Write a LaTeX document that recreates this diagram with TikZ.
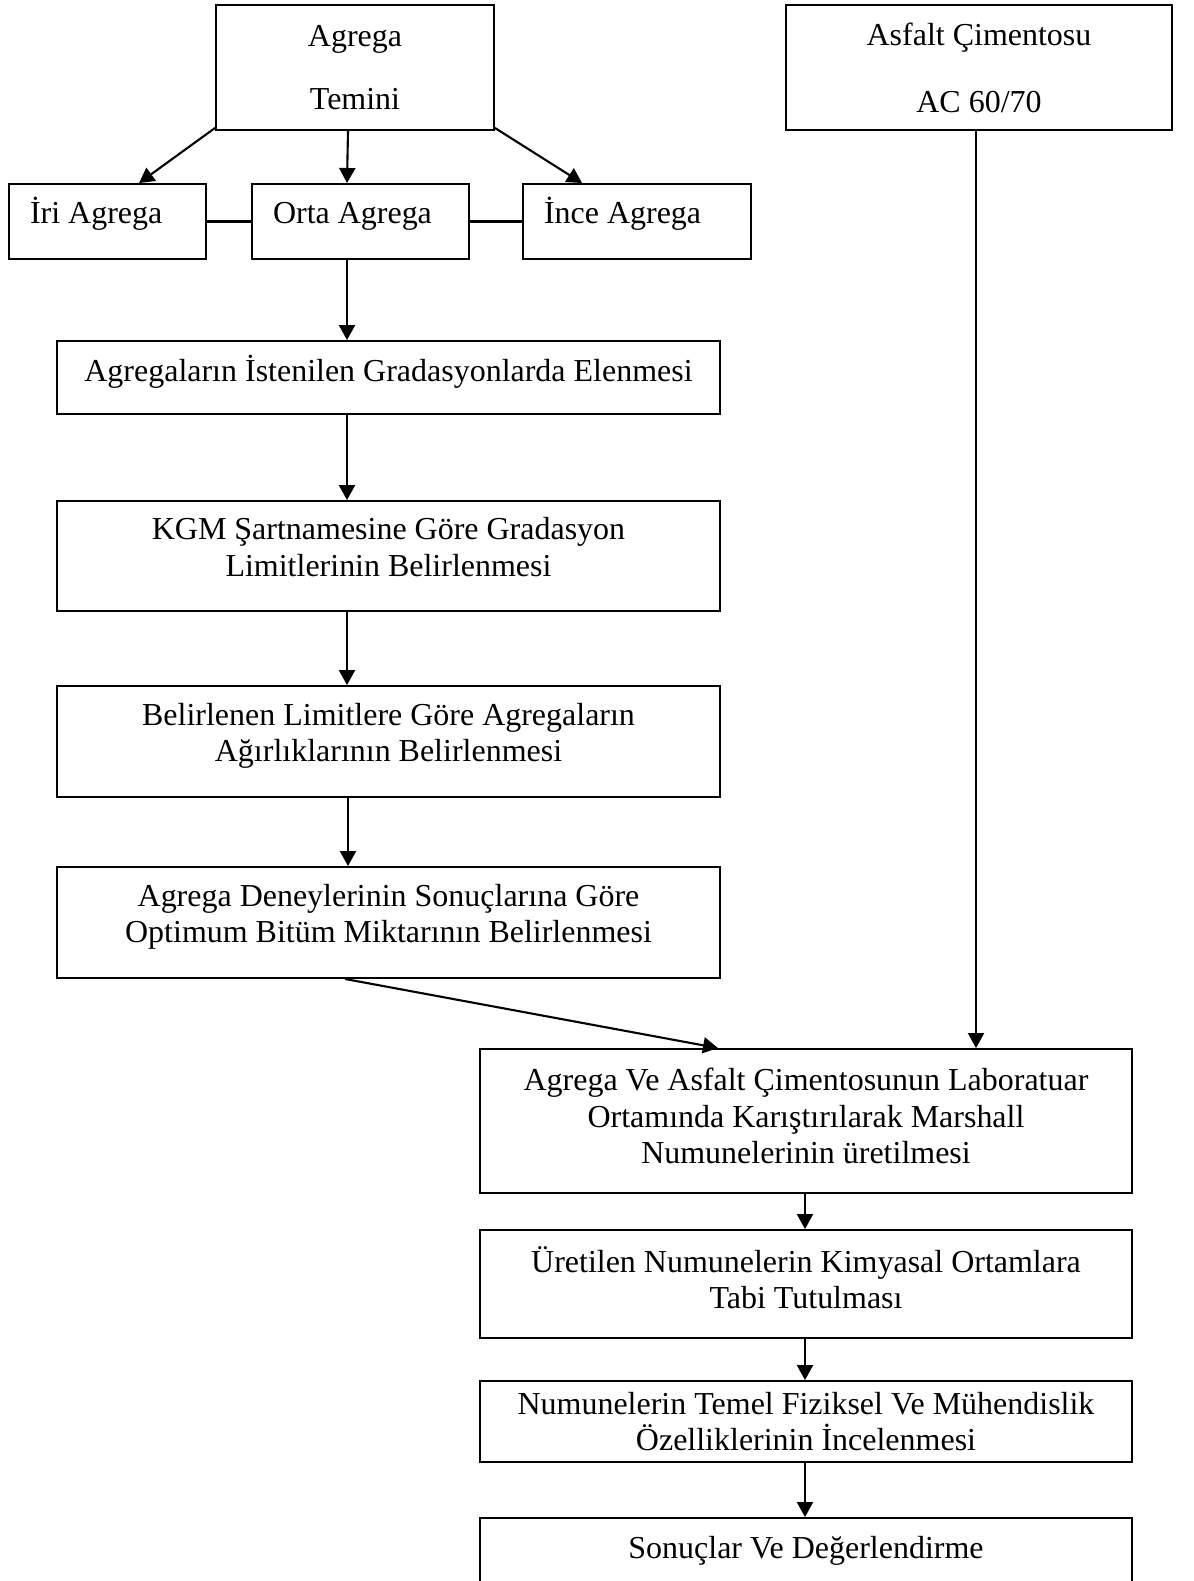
\documentclass[tikz,border=0pt]{standalone}
\usepackage{fontspec}
\setmainfont{Liberation Serif}
\usetikzlibrary{arrows.meta,calc}

\begin{document}
\begin{tikzpicture}[
  x=0.02cm, y=-0.02cm,
  box/.style={draw, line width=1.1pt, rectangle, align=center, inner sep=0pt,
    font=\fontsize{18.2}{20.7}\selectfont},
  sbox/.style={box, align=flush left, inner xsep=0.42cm, minimum height=1.5cm,
    text height=0.3cm, text depth=0.2cm},
  lift/.style={text depth=0.36cm},
  arr/.style={-{Triangle[length=0.3cm,width=0.32cm]}, line width=1.2pt},
  lnk/.style={line width=1.2pt}
]
  \useasboundingbox (0,0) rectangle (1193,1581);
  % ust sira
  \node[box, minimum width=5.56cm, minimum height=2.5cm] (temini) at (355,67.5) {Agrega\\[0.52cm]Temini};
  \node[box, text depth=0cm, minimum width=7.72cm, minimum height=2.5cm] (asfalt) at (979,67.5) {Asfalt Çimentosu\\[0.62cm]AC 60/70};
  \node[sbox, minimum width=3.94cm, text width=3.1cm] (iri)  at (107.5,221.5) {İri Agrega};
  \node[sbox, minimum width=4.34cm, text width=3.5cm] (orta) at (360.5,221.5) {Orta Agrega};
  \node[sbox, minimum width=4.56cm, text width=3.72cm] (ince) at (637,221.5) {İnce Agrega};
  % sol kolon
  \node[box, lift, minimum width=13.26cm, minimum height=1.46cm] (eleme) at (388.5,377.5) {Agregaların İstenilen Gradasyonlarda Elenmesi};
  \node[box, lift, minimum width=13.26cm, minimum height=2.2cm] (kgm) at (388.5,556) {KGM Şartnamesine Göre Gradasyon\\Limitlerinin Belirlenmesi};
  \node[box, lift, minimum width=13.26cm, minimum height=2.22cm] (agirlik) at (388.5,741.5) {Belirlenen Limitlere Göre Agregaların\\Ağırlıklarının Belirlenmesi};
  \node[box, lift, minimum width=13.26cm, minimum height=2.22cm] (bitum) at (388.5,922.5) {Agrega Deneylerinin Sonuçlarına Göre\\Optimum Bitüm Miktarının Belirlenmesi};
  % sag kolon
  \node[box, text depth=0.2cm, minimum width=13.04cm, minimum height=2.88cm] (marshall) at (806,1121) {Agrega Ve Asfalt Çimentosunun Laboratuar\\Ortamında Karıştırılarak Marshall\\Numunelerinin üretilmesi};
  \node[box, text depth=0.26cm, minimum width=13.04cm, minimum height=2.16cm] (kimya) at (806,1284) {Üretilen Numunelerin Kimyasal Ortamlara\\Tabi Tutulması};
  \node[box, minimum width=13.04cm, minimum height=1.62cm] (ozellik) at (806,1421.5) {Numunelerin Temel Fiziksel Ve Mühendislik\\Özelliklerinin İncelenmesi};
  \node[box, minimum width=13.04cm, minimum height=1.32cm] (sonuc) at (806,1551) {Sonuçlar Ve Değerlendirme};
  % ok hizalari
  \coordinate (ax) at (347,0);
  \coordinate (bx) at (976,0);
  \coordinate (cx) at (805,0);
  \coordinate (mt) at (718,0);
  % baglantilar
  \draw[arr] (temini.south west) ++(0,-3) -- ($(iri.north west)+(131,0)$);
  \draw[arr] (temini.south -| 348,0) -- (orta.north -| ax);
  \draw[arr] (temini.south east) ++(0,-3) -- ($(ince.north west)+(60,0)$);
  \draw[lnk] (iri) -- (orta);
  \draw[lnk] (orta) -- (ince);
  \draw[arr] (orta.south -| ax) -- (eleme.north -| ax);
  \draw[arr] (eleme.south -| ax) -- (kgm.north -| ax);
  \draw[arr] (kgm.south -| ax) -- (agirlik.north -| ax);
  \draw[arr] (agirlik.south -| 348,0) -- (bitum.north -| 348,0);
  \draw[arr] (bitum.south -| 345,0) -- (marshall.north -| mt);
  \draw[arr] (asfalt.south -| bx) -- (marshall.north -| bx);
  \draw[arr] (marshall.south -| cx) -- (kimya.north -| cx);
  \draw[arr] (kimya.south -| cx) -- (ozellik.north -| cx);
  \draw[arr] (ozellik.south -| cx) -- (sonuc.north -| cx);
\end{tikzpicture}
\end{document}
